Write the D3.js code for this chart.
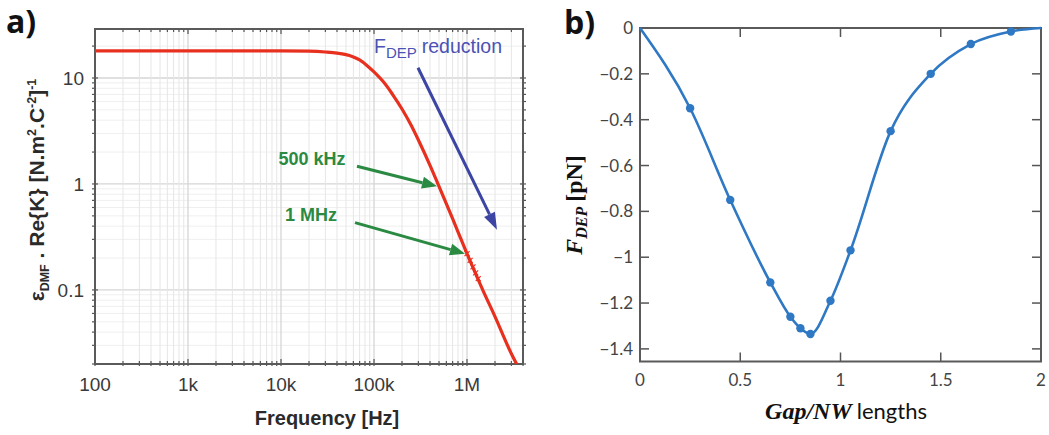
<!DOCTYPE html>
<html>
<head>
<meta charset="utf-8">
<script src="https://cdn.jsdelivr.net/npm/d3@7/dist/d3.min.js"></script>
<style>
  html, body { margin: 0; padding: 0; background: #fff; }
  svg { display: block; }
</style>
</head>
<body>
<svg id="fig" width="1049" height="435"></svg>
<script>
// ---- Panel a: DEP spectrum (log-log) ----
const freqHz = [100, 1e3, 1e4, 2e4, 3e4, 4e4, 5e4, 6e4, 7e4, 8.5e4, 1e5, 1.3e5, 1.6e5, 2e5, 2.5e5, 3e5, 4e5, 5e5, 7e5, 1e6, 1.5e6, 2e6, 3e6, 4e6];
const dmfReK = [18, 18, 18, 17.9, 17.6, 17.2, 16.6, 15.8, 14.8, 13.0, 11.4, 8.9, 6.9, 5.1, 3.6, 2.6, 1.5, 0.95, 0.47, 0.22, 0.097, 0.056, 0.025, 0.0155];
// sample markers on the curve just above 1 MHz
const markFreqHz = [1.0e6, 1.08e6, 1.16e6, 1.24e6, 1.32e6];
const markReK = [0.22, 0.19, 0.165, 0.145, 0.128];
const freqTicks = [1e2, 1e3, 1e4, 1e5, 1e6];
const freqTickLabels = ["100", "1k", "10k", "100k", "1M"];
const reKTicks = [0.1, 1, 10];
const reKTickLabels = ["0.1", "1", "10"];

// ---- Panel b: DEP force vs gap ----
const gapRatio = [0, 0.25, 0.45, 0.65, 0.75, 0.8, 0.85, 0.95, 1.05, 1.25, 1.45, 1.65, 1.85, 2];
const forcePN = [0, -0.35, -0.75, -1.11, -1.26, -1.31, -1.335, -1.19, -0.97, -0.45, -0.2, -0.07, -0.015, 0];
const gapTicks = [0, 0.5, 1, 1.5, 2];
const gapTickLabels = ["0", "0.5", "1", "1.5", "2"];
const forceTicks = [0, -0.2, -0.4, -0.6, -0.8, -1, -1.2, -1.4];
const forceTickLabels = ["0", "\u22120.2", "\u22120.4", "\u22120.6", "\u22120.8", "\u22121", "\u22121.2", "\u22121.4"];

const svg = d3.select("#fig");
const sans = "'Liberation Sans', Arial, sans-serif";
const lato = "Lato, 'Open Sans', sans-serif";
const serif = "'Liberation Serif', 'DejaVu Serif', serif";

// ================= Panel a =================
const xA = d3.scaleLog().domain([100, 4e6]).range([95, 523]);
const yA = d3.scaleLog().domain([0.02, 29]).range([364, 29]);
const gA = svg.append("g");
const [ax0, ax1] = xA.range();
const [ay1, ay0] = yA.range();

gA.append("defs").append("clipPath").attr("id", "clipA")
  .append("rect").attr("x", ax0).attr("y", ay0).attr("width", ax1 - ax0).attr("height", ay1 - ay0);

// minor/major positions per decade
const xMinor = [];
for (let d = 2; d <= 6; d++) for (let m = 1; m <= 9; m++) {
  const v = m * Math.pow(10, d);
  if (v >= 100 && v <= 4e6) xMinor.push(v);
}
const yMinor = [];
for (let d = -2; d <= 1; d++) for (let m = 1; m <= 9; m++) {
  const v = m * Math.pow(10, d);
  if (v >= 0.02 && v <= 29) yMinor.push(v);
}
const isDecade = v => Math.abs(Math.log10(v) - Math.round(Math.log10(v))) < 1e-9;

const grid = gA.append("g");
grid.selectAll("line.hy").data(yMinor).join("line")
  .attr("x1", ax0).attr("x2", ax1).attr("y1", d => yA(d)).attr("y2", d => yA(d))
  .attr("stroke", d => isDecade(d) ? "#d6d6d6" : "#efefef").attr("stroke-width", d => isDecade(d) ? 1.3 : 1);
grid.selectAll("line.vx").data(xMinor).join("line")
  .attr("y1", ay0).attr("y2", ay1).attr("x1", d => xA(d)).attr("x2", d => xA(d))
  .attr("stroke", d => isDecade(d) ? "#d6d6d6" : "#e6e6e6").attr("stroke-width", d => isDecade(d) ? 1.3 : 1);

// ticks on all four sides
const tk = gA.append("g").attr("stroke", "#555").attr("stroke-width", 1.2);
xMinor.forEach(v => {
  const L = isDecade(v) ? 5 : 3;
  tk.append("line").attr("x1", xA(v)).attr("x2", xA(v)).attr("y1", ay1 - L).attr("y2", ay1 + 2);
  tk.append("line").attr("x1", xA(v)).attr("x2", xA(v)).attr("y1", ay0 + L).attr("y2", ay0);
});
yMinor.forEach(v => {
  const L = isDecade(v) ? 5 : 3;
  tk.append("line").attr("y1", yA(v)).attr("y2", yA(v)).attr("x1", ax0 - 3).attr("x2", ax0 + L - 2);
  tk.append("line").attr("y1", yA(v)).attr("y2", yA(v)).attr("x1", ax1 + 3).attr("x2", ax1 - L + 2);
});

// frame
gA.append("rect").attr("x", ax0).attr("y", ay0).attr("width", ax1 - ax0).attr("height", ay1 - ay0)
  .attr("fill", "none").attr("stroke", "#5a5a5a").attr("stroke-width", 2);

// curve
const ptsA = freqHz.map((f, i) => [f, dmfReK[i]]);
gA.append("path").datum(ptsA)
  .attr("clip-path", "url(#clipA)")
  .attr("fill", "none").attr("stroke", "#e8301f").attr("stroke-width", 3.2)
  .attr("d", d3.line().x(d => xA(d[0])).y(d => yA(d[1])).curve(d3.curveMonotoneX));

gA.append("g").selectAll("path").data(markFreqHz.map((f, i) => [f, markReK[i]])).join("path")
  .attr("transform", d => `translate(${xA(d[0])},${yA(d[1])})`)
  .attr("d", "M-2.5,-2.5L2.5,2.5M-2.5,2.5L2.5,-2.5").attr("stroke", "#e8301f").attr("stroke-width", 1.2);

// tick labels
gA.append("g").selectAll("text").data(freqTicks).join("text")
  .attr("x", d => xA(d)).attr("y", 391).attr("text-anchor", "middle")
  .attr("font-family", sans).attr("font-size", 19).attr("fill", "#3a3a3a")
  .text((d, i) => freqTickLabels[i]);
gA.append("g").selectAll("text").data(reKTicks).join("text")
  .attr("x", 84).attr("y", d => yA(d) + 7).attr("text-anchor", "end")
  .attr("font-family", sans).attr("font-size", 19).attr("fill", "#3a3a3a")
  .text((d, i) => reKTickLabels[i]);

// axis titles
gA.append("text").attr("x", 327).attr("y", 425).attr("text-anchor", "middle")
  .attr("font-family", sans).attr("font-weight", "bold").attr("font-size", 20).attr("fill", "#2a2a2a")
  .text("Frequency [Hz]");

const yt = gA.append("text").attr("transform", "translate(44,190) rotate(-90)")
  .attr("text-anchor", "middle").attr("font-family", sans).attr("font-weight", "bold")
  .attr("font-size", 21).attr("fill", "#2a2a2a");
yt.append("tspan").text("\u03b5");
yt.append("tspan").attr("font-size", 12.5).attr("dy", 5).text("DMF");
yt.append("tspan").attr("dy", -5).text(" . Re{K} [N.m");
yt.append("tspan").attr("font-size", 12.5).attr("dy", -8).text("2");
yt.append("tspan").attr("dy", 8).text(".C");
yt.append("tspan").attr("font-size", 12.5).attr("dy", -8).text("-2");
yt.append("tspan").attr("dy", 8).text("]");
yt.append("tspan").attr("font-size", 12.5).attr("dy", -8).text("-1");

// annotations
function arrow(g, x1, y1, x2, y2, color, w, hl, hw) {
  const a = Math.atan2(y2 - y1, x2 - x1);
  const bx = x2 - hl * Math.cos(a), by = y2 - hl * Math.sin(a);
  g.append("line").attr("x1", x1).attr("y1", y1).attr("x2", bx).attr("y2", by)
    .attr("stroke", color).attr("stroke-width", w);
  const px = -Math.sin(a) * hw, py = Math.cos(a) * hw;
  g.append("path").attr("d", `M${x2},${y2}L${bx + px},${by + py}L${bx - px},${by - py}Z`).attr("fill", color);
}
const green = "#2a8a42";
const ann = gA.append("g");
// blue reduction arrow, placed in data space
arrow(ann, xA(2.97e5), yA(12.5), xA(2.1e6), yA(0.37), "#3c45a3", 3, 17, 6);
const ft = ann.append("text").attr("x", 374).attr("y", 53).attr("font-family", sans)
  .attr("font-size", 19.5).attr("fill", "#4a52b4");
ft.append("tspan").text("F");
ft.append("tspan").attr("font-size", 15).attr("dy", 5).text("DEP");
ft.append("tspan").attr("dy", -5).attr("dx", 5).text("reduction");

// frequency call-outs pointing at the curve
const call500 = [5e5, 0.95], call1M = [1e6, 0.22];
arrow(ann, xA(call500[0]) - 82, yA(call500[1]) - 20, xA(call500[0]) - 2, yA(call500[1]), green, 3, 15, 6);
arrow(ann, xA(call1M[0]) - 112, yA(call1M[1]) - 31, xA(call1M[0]) - 2, yA(call1M[1]), green, 3, 15, 6);
ann.append("text").attr("x", 312).attr("y", 165).attr("text-anchor", "middle")
  .attr("font-family", sans).attr("font-weight", "bold").attr("font-size", 18).attr("fill", green).text("500 kHz");
ann.append("text").attr("x", 311).attr("y", 221).attr("text-anchor", "middle")
  .attr("font-family", sans).attr("font-weight", "bold").attr("font-size", 18).attr("fill", green).text("1 MHz");

svg.append("text").attr("x", 6).attr("y", 33).attr("font-family", "'Open Sans', sans-serif")
  .attr("font-weight", "bold").attr("font-size", 32).attr("fill", "#111").text("a)");

// ================= Panel b =================
const xB = d3.scaleLinear().domain([0, 2]).range([640, 1041]);
const yB = d3.scaleLinear().domain([-1.455, 0]).range([361.5, 28]);
const gB = svg.append("g");
const [bx0, bx1] = xB.range();
const [by1, by0] = yB.range();

const tb = gB.append("g").attr("stroke", "#555").attr("stroke-width", 1.5);
gapTicks.slice(1, -1).forEach(v => {
  tb.append("line").attr("x1", xB(v)).attr("x2", xB(v)).attr("y1", by1).attr("y2", by1 - 9);
  tb.append("line").attr("x1", xB(v)).attr("x2", xB(v)).attr("y1", by0).attr("y2", by0 + 9);
});
forceTicks.slice(1).forEach(v => {
  tb.append("line").attr("y1", yB(v)).attr("y2", yB(v)).attr("x1", bx0).attr("x2", bx0 + 9);
  tb.append("line").attr("y1", yB(v)).attr("y2", yB(v)).attr("x1", bx1).attr("x2", bx1 - 9);
});
gB.append("rect").attr("x", bx0).attr("y", by0).attr("width", bx1 - bx0).attr("height", by1 - by0)
  .attr("fill", "none").attr("stroke", "#5a5a5a").attr("stroke-width", 2);

const ptsB = gapRatio.map((g, i) => [g, forcePN[i]]);
const blue = "#2f78c4";
gB.append("path").datum(ptsB).attr("fill", "none").attr("stroke", blue).attr("stroke-width", 2.6)
  .attr("d", d3.line().x(d => xB(d[0])).y(d => yB(d[1])).curve(d3.curveMonotoneX));
gB.append("g").selectAll("circle").data(ptsB.slice(1, -1)).join("circle")
  .attr("cx", d => xB(d[0])).attr("cy", d => yB(d[1])).attr("r", 4.2).attr("fill", blue);

gB.append("g").selectAll("text").data(gapTicks).join("text")
  .attr("x", d => xB(d)).attr("y", 386).attr("text-anchor", "middle")
  .attr("font-family", lato).attr("font-size", 17).attr("fill", "#444")
  .text((d, i) => gapTickLabels[i]);
gB.append("g").selectAll("text").data(forceTicks).join("text")
  .attr("x", 633).attr("y", d => yB(d) + 6).attr("text-anchor", "end")
  .attr("font-family", lato).attr("font-size", 17).attr("fill", "#444")
  .text((d, i) => forceTickLabels[i]);

const xl = gB.append("text").attr("x", 846).attr("y", 419).attr("text-anchor", "middle")
  .attr("font-size", 24).attr("fill", "#111");
xl.append("tspan").attr("font-family", serif).attr("font-style", "italic").attr("font-weight", "bold").text("Gap/NW");
xl.append("tspan").attr("font-family", lato).attr("font-size", 22).attr("dx", 5).text("lengths");

const yl = gB.append("text").attr("transform", "translate(582,205) rotate(-90)")
  .attr("text-anchor", "middle").attr("font-family", serif).attr("font-weight", "bold")
  .attr("font-size", 24).attr("fill", "#111");
yl.append("tspan").attr("font-style", "italic").text("F");
yl.append("tspan").attr("font-style", "italic").attr("font-size", 16).attr("dy", 5).text("DEP");
yl.append("tspan").attr("dy", -5).attr("dx", 5).text("[pN]");

svg.append("text").attr("x", 564).attr("y", 34).attr("font-family", "'Open Sans', sans-serif")
  .attr("font-weight", "bold").attr("font-size", 32).attr("fill", "#111").text("b)");
</script>
</body>
</html>
